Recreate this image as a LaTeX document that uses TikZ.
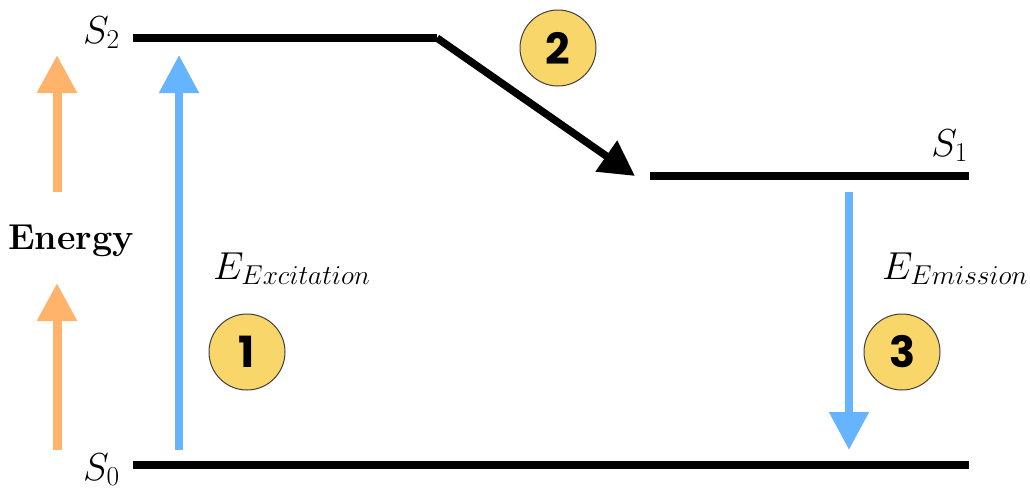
\RequirePackage{fix-cm}
\documentclass[tikz,border=0pt]{standalone}
\usepackage{fontspec}
\newfontfamily\numfont{Poppins}
\usetikzlibrary{arrows.meta}
\definecolor{warm}{HTML}{FFB36B}
\definecolor{cool}{HTML}{66B3FF}
\definecolor{badgefill}{HTML}{F9D66A}
\begin{document}
\begin{tikzpicture}[x=1pt,y=-1pt,
  level/.style={line width=8.5pt},
  energyarrow/.style={warm,line width=9pt,-{Triangle[length=38pt,width=38pt]}},
  photon/.style={cool,line width=8pt,-{Triangle[length=38pt,width=38pt]}},
  relax/.style={black,line width=7.5pt,-{Triangle[length=35pt,width=36pt]}},
  statelabel/.style={inner sep=0pt,font=\fontsize{39}{44}\selectfont},
  badge/.style={circle,minimum size=76pt,inner sep=0pt,fill=badgefill,draw=black!75,line width=1pt,
    font=\numfont\bfseries\fontsize{43}{43}\selectfont}]
\useasboundingbox (0,0) rectangle (1030,493);

% energy levels
\coordinate (s2a) at (133,38);
\coordinate (s2b) at (437,38);
\coordinate (s1a) at (650,176);
\coordinate (s1b) at (969,176);
\coordinate (s0a) at (133,465);
\coordinate (s0b) at (969,465);
\draw[level] (s2a) -- (s2b);
\draw[level] (s1a) -- (s1b);
\draw[level] (s0a) -- (s0b);

% level labels
\node[statelabel,anchor=base west] (S2) at (83,43) {$S_2$};
\node[statelabel,anchor=base east] (S1) at (968,156) {$S_1$};
\node[statelabel,anchor=base west] (S0) at (83,480) {$S_0$};

% energy axis
\coordinate (ea0) at (57,192);
\coordinate (ea1) at (57,55);
\coordinate (eb0) at (57,450);
\coordinate (eb1) at (57,283);
\draw[energyarrow] (ea0) -- (ea1);
\draw[energyarrow] (eb0) -- (eb1);
\node[inner sep=0pt,anchor=base,font=\bfseries\fontsize{36}{40}\selectfont] (energy) at (71,249) {Energy};

% excitation
\coordinate (ex0) at (179,450);
\coordinate (ex1) at (179,55);
\draw[photon] (ex0) -- (ex1);
\node[statelabel,anchor=base west] (Eex) at (213,279) {$E_{Excitation}$};
\node[badge] (n1) at (247,352) {1};

% vibrational relaxation
\coordinate (rx1) at (635,176);
\draw[relax] (s2b) -- (rx1);
\node[badge] (n2) at (558,48) {2};

% emission
\coordinate (em0) at (849,192);
\coordinate (em1) at (849,450);
\draw[photon] (em0) -- (em1);
\node[statelabel,anchor=base west] (Eem) at (882,279) {$E_{Emission}$};
\node[badge] (n3) at (902,352) {3};
\end{tikzpicture}
\end{document}
